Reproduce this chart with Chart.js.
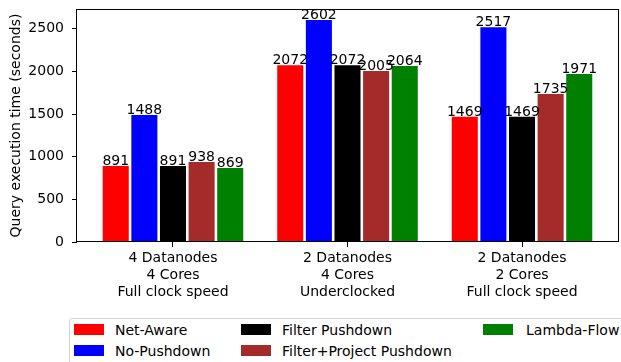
<!DOCTYPE html>
<html>
<head>
<meta charset="utf-8">
<script src="https://cdn.jsdelivr.net/npm/chart.js@4/dist/chart.umd.min.js"></script>
<style>
  html, body { margin: 0; padding: 0; background: #fff; overflow: hidden; }
  #wrap { position: relative; width: 621px; height: 362px; }
  #chart { position: absolute; left: 0; top: 0; }
  #legend {
    position: absolute; left: 69px; top: 318px; width: 570px; height: 52px;
    border: 1px solid #d4d4d4; border-radius: 3px; background: #fff;
    font-family: 'DejaVu Sans', sans-serif; font-size: 14px; color: #000;
  }
  .item { position: absolute; height: 16px; line-height: 16px; white-space: nowrap; }
  .sw { position: absolute; left: 0; top: 2px; width: 30px; height: 11px; }
  .lbl { position: absolute; top: 0; }
</style>
</head>
<body>
<div id="wrap">
  <canvas id="chart" width="621" height="362"></canvas>
  <div id="legend"></div>
</div>
<script>
// Hardware configurations (one group of bars each)
const categories = [
  ['4 Datanodes', '4 Cores', 'Full clock speed'],
  ['2 Datanodes', '4 Cores', 'Underclocked'],
  ['2 Datanodes', '2 Cores', 'Full clock speed']
];

// Query execution time in seconds, per approach
const seriesNames = ['Net-Aware', 'No-Pushdown', 'Filter Pushdown', 'Filter+Project Pushdown', 'Lambda-Flow'];
const netAware      = [891, 2072, 1469];
const noPushdown    = [1488, 2602, 2517];
const filterPush    = [891, 2072, 1469];
const filterProject = [938, 2005, 1735];
const lambdaFlow    = [869, 2064, 1971];
const seriesColors  = ['#ff0000', '#0000ff', '#000000', '#a52a2a', '#008000'];

const yTicks = [0, 500, 1000, 1500, 2000, 2500];

const allSeries = [netAware, noPushdown, filterPush, filterProject, lambdaFlow];
const yMax = Math.max(...allSeries.flat()) * 1.05;

Chart.defaults.font.family = "'DejaVu Sans', sans-serif";
Chart.defaults.font.size = 14;
Chart.defaults.color = '#000';

const datasets = allSeries.map((vals, s) => ({
  label: seriesNames[s],
  data: vals.map((v, i) => ({ x: i, y: v })),
  backgroundColor: seriesColors[s],
  borderWidth: 0,
  categoryPercentage: 0.82,
  barPercentage: 0.91
}));

// Value written above each bar
const valueLabels = {
  id: 'valueLabels',
  afterDatasetsDraw(chart) {
    const ctx = chart.ctx;
    ctx.save();
    ctx.font = "14px 'DejaVu Sans', sans-serif";
    ctx.fillStyle = '#000';
    ctx.textAlign = 'center';
    ctx.textBaseline = 'alphabetic';
    chart.data.datasets.forEach((ds, di) => {
      chart.getDatasetMeta(di).data.forEach((bar, i) => {
        ctx.fillText(String(ds.data[i].y), bar.x, bar.y - 1);
      });
    });
    ctx.restore();
  }
};

// Box frame around the plotting area
const frame = {
  id: 'frame',
  afterDraw(chart) {
    const a = chart.chartArea;
    const ctx = chart.ctx;
    ctx.save();
    ctx.strokeStyle = '#000';
    ctx.lineWidth = 1;
    ctx.strokeRect(Math.round(a.left) - 0.5, Math.round(a.top) + 0.5,
                   Math.round(a.right - a.left) + 1, Math.round(a.bottom - a.top) - 1);
    ctx.restore();
  }
};

new Chart(document.getElementById('chart'), {
  type: 'bar',
  data: { datasets },
  plugins: [valueLabels, frame],
  options: {
    responsive: false,
    animation: false,
    layout: { padding: { top: 9, right: 3, left: 0, bottom: 0 } },
    plugins: { legend: { display: false }, tooltip: { enabled: false } },
    scales: {
      x: {
        type: 'linear',
        offset: false,
        min: -0.55,
        max: 2.55,
        afterBuildTicks(scale) { scale.ticks = categories.map((_, i) => ({ value: i })); },
        afterFit(scale) {
          scale.height = 120;
          scale.paddingLeft = 0;
          scale.paddingRight = 0;
        },
        ticks: {
          autoSkip: false,
          maxRotation: 0,
          padding: 3,
          callback: (v) => categories[v]
        },
        grid: { offset: false, drawOnChartArea: false, drawTicks: true, tickLength: 5, tickColor: '#000' },
        border: { display: false }
      },
      y: {
        min: 0,
        max: yMax,
        afterBuildTicks(scale) { scale.ticks = yTicks.map(v => ({ value: v })); },
        afterFit(scale) {
          scale.width = 77;
          scale.paddingTop = 0;
          scale.paddingBottom = 0;
        },
        ticks: { padding: 8, callback: (v) => String(v) },
        grid: { drawOnChartArea: false, drawTicks: true, tickLength: 5, tickColor: '#000' },
        border: { display: false },
        title: {
          display: true,
          text: 'Query execution time (seconds)',
          font: { size: 14 },
          padding: { top: 8, bottom: 0 }
        }
      }
    }
  }
});

// Legend laid out in three columns, filled column by column
const legendPos = [
  { col: 0, row: 0 }, { col: 0, row: 1 },
  { col: 1, row: 0 }, { col: 1, row: 1 },
  { col: 2, row: 0 }
];
const colX = [4, 171, 413];
const textX = [41, 41, 43];
const rowY = [3, 24];
const legend = document.getElementById('legend');
seriesNames.forEach((name, s) => {
  const p = legendPos[s];
  const item = document.createElement('div');
  item.className = 'item';
  item.style.left = colX[p.col] + 'px';
  item.style.top = rowY[p.row] + 'px';
  const sw = document.createElement('div');
  sw.className = 'sw';
  sw.style.background = seriesColors[s];
  const lbl = document.createElement('div');
  lbl.className = 'lbl';
  lbl.style.left = textX[p.col] + 'px';
  lbl.textContent = name;
  item.appendChild(sw);
  item.appendChild(lbl);
  legend.appendChild(item);
});
</script>
</body>
</html>
